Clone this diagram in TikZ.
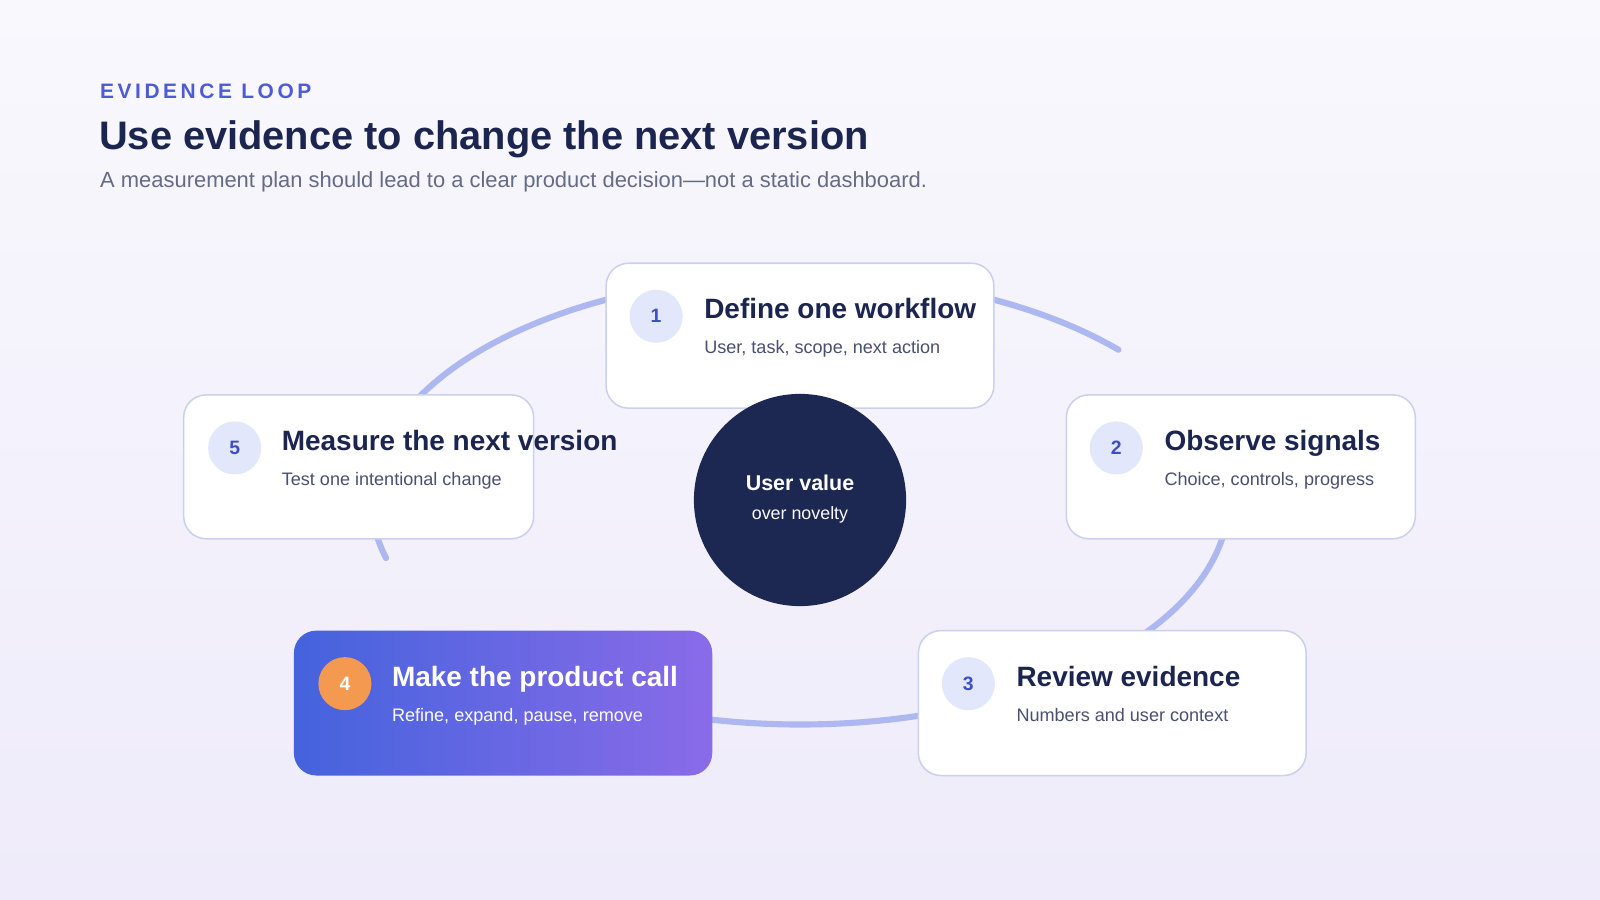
\documentclass[tikz,border=0pt]{standalone}
\usepackage{fontspec}
\setmainfont{Liberation Sans}
\usetikzlibrary{shapes.geometric}
\definecolor{navy}{HTML}{1C2752}
\definecolor{ink}{HTML}{1B2550}
\definecolor{gray1}{HTML}{4A5070}
\definecolor{accent}{HTML}{4F5BD5}
\definecolor{ring}{HTML}{AEB8F0}
\definecolor{cardline}{HTML}{CBD0F0}
\definecolor{badge}{HTML}{E3E7FB}
\definecolor{badgetxt}{HTML}{3D4FC4}
\definecolor{gA}{HTML}{4463DD}
\definecolor{gB}{HTML}{8A6BE8}
\definecolor{orange}{HTML}{F39A50}
\definecolor{bgA}{HTML}{F8F8FD}
\definecolor{bgB}{HTML}{EFEBFA}
\tikzset{
 card/.style={draw=cardline,line width=1.5pt,fill=white,rounded corners=22pt},
 badge/.style={circle,fill=badge,minimum size=52pt,inner sep=0pt,text=badgetxt,font=\fontsize{19}{22}\selectfont\bfseries},
 ctitle/.style={anchor=mid west,inner sep=0pt,text=ink,font=\fontsize{27.4}{32}\selectfont\bfseries},
 csub/.style={anchor=mid west,inner sep=0pt,text=gray1,font=\fontsize{17.7}{21}\selectfont},
}
\begin{document}
\begin{tikzpicture}[x=1pt,y=-1pt]
\useasboundingbox (0,0) rectangle (1568,882);
\shade[top color=bgA,bottom color=bgB] (0,0) rectangle (1568,882);
\node[anchor=mid west,inner sep=0pt,text=accent,font=\fontsize{20.5}{24}\selectfont\bfseries\addfontfeatures{LetterSpace=17}] (kick) at (98,94) {EVIDENCE LOOP};
\node[anchor=mid west,inner sep=0pt,text=ink,font=\fontsize{39}{44}\selectfont\bfseries] (title) at (97,144) {Use evidence to change the next version};
\node[anchor=mid west,inner sep=0pt,text=gray1!85,font=\fontsize{21.5}{25}\selectfont] (subt) at (98,181) {A measurement plan should lead to a clear product decision—not a static dashboard.};
% ring
\draw[ring,line width=6pt,line cap=round] (784,490) ++(42:420 and -220) arc[start angle=42,end angle=195,x radius=420,y radius=-220];
\draw[ring,line width=6pt,line cap=round] (784,490) ++(217:420 and -220) arc[start angle=217,end angle=385,x radius=420,y radius=-220];
% card 1
\draw[card] (594,258) rectangle (974,400);
\node[badge] (b1) at (643,310) {1};
\node[ctitle] (t1) at (690,309) {Define one workflow};
\node[csub] (s1) at (690,344) {User, task, scope, next action};
% card 2
\draw[card] (1045,387) rectangle (1387,528);
\node[badge] (b2) at (1094,439) {2};
\node[ctitle] (t2) at (1141,439) {Observe signals};
\node[csub] (s2) at (1141,473) {Choice, controls, progress};
% card 5
\draw[card] (180,387) rectangle (523,528);
\node[badge] (b5) at (230,439) {5};
\node[ctitle] (t5) at (276,439) {Measure the next version};
\node[csub] (s5) at (276,473) {Test one intentional change};
% card 3
\draw[card] (900,618) rectangle (1280,760);
\node[badge] (b3) at (949,670) {3};
\node[ctitle] (t3) at (996,670) {Review evidence};
\node[csub] (s3) at (996,704) {Numbers and user context};
% card 4
\shade[left color=gA,right color=gB,rounded corners=22pt] (288,618) rectangle (698,760);
\node[badge,fill=orange,text=white] (b4) at (338,670) {4};
\node[ctitle,text=white] (t4) at (384,670) {Make the product call};
\node[csub,text=white!92!badge] (s4) at (384,704) {Refine, expand, pause, remove};
% center
\node[circle,fill=navy,minimum size=208pt,inner sep=0pt] (hub) at (784,490) {};
\node[text=white,font=\fontsize{21}{25}\selectfont\bfseries,inner sep=0pt] (hubt) at (784,473) {User value};
\node[text=white!90!badge,font=\fontsize{17.5}{21}\selectfont,inner sep=0pt] (hubs) at (784,505) {over novelty};
\end{tikzpicture}
\end{document}
